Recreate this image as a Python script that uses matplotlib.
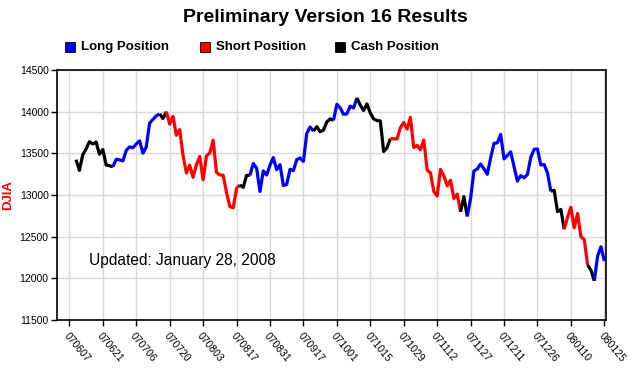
import numpy as np
from matplotlib import pyplot as plt
from matplotlib.patches import Rectangle

plt.rcParams['font.family'] = ['Liberation Sans', 'DejaVu Sans']

# trading-day index 0 = 070607, labels every 10 trading days
tick_labels = ['070607', '070621', '070706', '070720', '070803', '070817',
               '070831', '070917', '071001', '071015', '071029', '071112',
               '071127', '071211', '071226', '080110', '080125']

# DJIA closes from 070611 (day 2) to 080125 (day 160)
first_day = 2
closes = [13424, 13295, 13482, 13554, 13639, 13613, 13635, 13489, 13546, 13360,
          13352, 13338, 13428, 13422, 13409, 13535, 13577, 13566, 13612, 13650,
          13502, 13578, 13862, 13907, 13951, 13972, 13918, 14000, 13851, 13943,
          13717, 13785, 13474, 13265, 13358, 13212, 13362, 13463, 13182, 13469,
          13504, 13658, 13271, 13240, 13237, 13029, 12861, 12846, 13079, 13121,
          13091, 13236, 13236, 13379, 13322, 13042, 13289, 13239, 13358, 13449,
          13305, 13363, 13113, 13128, 13308, 13292, 13425, 13443, 13403, 13739,
          13816, 13767, 13820, 13759, 13779, 13878, 13913, 13896, 14088, 14047,
          13968, 13974, 14066, 14044, 14165, 14079, 14015, 14093, 13985, 13913,
          13893, 13889, 13522, 13567, 13676, 13675, 13672, 13807, 13870, 13792,
          13930, 13568, 13595, 13543, 13661, 13300, 13266, 13043, 12988, 13307,
          13231, 13110, 13177, 12958, 13010, 12799, 12981, 12743, 12958, 13289,
          13312, 13372, 13315, 13249, 13445, 13620, 13626, 13727, 13433, 13474,
          13518, 13340, 13167, 13232, 13207, 13246, 13451, 13549, 13552, 13360,
          13366, 13265, 13044, 13057, 12800, 12827, 12589, 12735, 12853, 12606,
          12778, 12501, 12466, 12159, 12099, 11971, 12270, 12379, 12207]

# position held between consecutive switch days
switch_days = [2, 13, 27, 29, 51, 54, 73, 79, 86, 96, 117, 119, 144, 148, 155, 157, 160]
switch_pos = ['cash', 'long', 'cash', 'short', 'cash', 'long', 'cash', 'long',
              'cash', 'short', 'cash', 'long', 'cash', 'short', 'cash', 'long']

colors = {'long': '#0000ff', 'short': '#ff0000', 'cash': '#000000'}
legend_names = {'long': 'Long Position', 'short': 'Short Position', 'cash': 'Cash Position'}

days = np.arange(first_day, first_day + len(closes))
closes = np.array(closes)

W, H = 633, 369
fig = plt.figure(figsize=(W/100, H/100), dpi=100)
ax = fig.add_axes([57/W, 1 - 320/H, (606-57)/W, (320-70)/H])

for k in range(len(switch_pos)):
    a = switch_days[k] - first_day
    b = switch_days[k+1] - first_day
    ax.plot(days[a:b+1], closes[a:b+1], color=colors[switch_pos[k]],
            linewidth=2.3, solid_joinstyle='round', solid_capstyle='butt')

ax.set_xlim(-3.7, 160.5)
ax.set_ylim(11500, 14500)
ax.set_yticks(np.arange(11500, 14501, 500))
ax.set_xticks(np.arange(0, 161, 10))
ax.set_xticklabels(tick_labels, rotation=-50, ha='left', va='top',
                   rotation_mode='anchor', fontsize=7.5)
ax.tick_params(axis='y', labelsize=7.5, length=4, width=1, pad=2)
ax.tick_params(axis='x', length=4, width=1)
ax.grid(True, color='#d9d9d9', linewidth=1)
ax.set_axisbelow(True)
for s in ax.spines.values():
    s.set_linewidth(1.2)

fig.text(8/W, 1 - 195/H, 'DJIA', color='#ff0000', fontweight='bold',
         fontsize=9.5, rotation=90, ha='center', va='center')
ax.text(6, 12215, 'Updated: January 28, 2008', fontsize=11.2, va='center')

fig.text(325/W, 1 - 18/H, 'Preliminary Version 16 Results', ha='center',
         va='center', fontsize=14, fontweight='bold')

# legend squares and labels
legend_x = [65, 200, 335]
for p, lx in zip(['long', 'short', 'cash'], legend_x):
    fig.patches.append(Rectangle((lx/W, 1 - 52/H), 10/W, 10/H, transform=fig.transFigure,
                                 facecolor=colors[p], edgecolor='black', linewidth=0.6))
    fig.text((lx + 16)/W, 1 - 47/H, legend_names[p], ha='left', va='center',
             fontsize=9.5, fontweight='bold')

fig.savefig('out.png', dpi=100)
